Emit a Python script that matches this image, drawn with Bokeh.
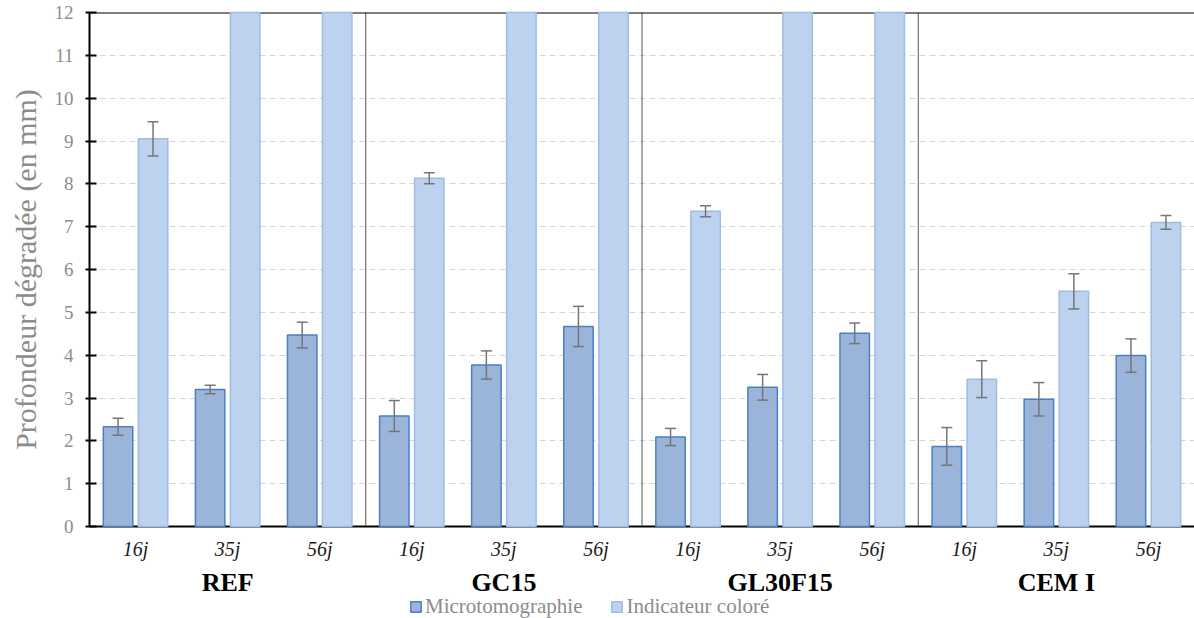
from bokeh.plotting import figure
from bokeh.layouts import column
from bokeh.models import (ColumnDataSource, FactorRange, Range1d, Whisker, TeeHead,
                          Span, Legend, LegendItem, FixedTicker)
from bokeh.core.properties import value
from bokeh.transform import dodge
from bokeh.embed import file_html
from bokeh.resources import INLINE

groups = ["REF", "GC15", "GL30F15", "CEM I"]
days = ["16j", "35j", "56j"]

micro = [2.33, 3.20, 4.47, 2.58, 3.77, 4.67, 2.09, 3.25, 4.51, 1.87, 2.97, 3.99]
micro_err = [0.20, 0.10, 0.30, 0.36, 0.33, 0.47, 0.20, 0.30, 0.24, 0.44, 0.39, 0.39]
indic = [9.05, 12.0, 12.0, 8.13, 12.0, 12.0, 7.36, 12.0, 12.0, 3.44, 5.49, 7.10]
indic_err = [0.40, None, None, 0.13, None, None, 0.13, None, None, 0.43, 0.41, 0.16]

factors = [(g, d) for g in groups for d in days]

SERIF = "Liberation Serif"
MICRO_FILL, MICRO_LINE = "#9ab4da", "#4a80c2"
INDIC_FILL, INDIC_LINE = "#bdd2ef", "#9dbde6"
ERR = "#767676"
GRAY_TXT = "#8c8c8c"

src = ColumnDataSource(dict(x=factors, micro=micro, indic=indic))
src_me = ColumnDataSource(dict(
    x=factors,
    up=[m + e for m, e in zip(micro, micro_err)],
    lo=[m - e for m, e in zip(micro, micro_err)]))
ie = [(f, v, e) for f, v, e in zip(factors, indic, indic_err) if e is not None]
src_ie = ColumnDataSource(dict(
    x=[t[0] for t in ie],
    up=[t[1] + t[2] for t in ie],
    lo=[t[1] - t[2] for t in ie]))

xr = FactorRange(*factors, factor_padding=0, group_padding=0, range_padding=0)
p = figure(x_range=xr, y_range=Range1d(0, 12), frame_width=1105, frame_height=514,
           output_backend="svg", toolbar_location=None,
           min_border_left=89, min_border_right=0, min_border_top=12, min_border_bottom=34)
p.outline_line_color = None
p.background_fill_color = "white"

OFF = 0.19
BW = 0.32
r1 = p.vbar(x=dodge("x", -OFF, range=xr), top="micro", width=BW, source=src,
            fill_color=MICRO_FILL, line_color=MICRO_LINE, line_width=1.5)
r2 = p.vbar(x=dodge("x", OFF, range=xr), top="indic", width=BW, source=src,
            fill_color=INDIC_FILL, line_color=INDIC_LINE, line_width=1.5)
r1.level = "overlay"
r2.level = "overlay"

for s, off in ((src_me, -OFF), (src_ie, OFF)):
    w = Whisker(source=s, base=dodge("x", off, range=xr), upper="up", lower="lo",
                line_color=ERR, line_width=1.5,
                upper_head=TeeHead(size=11, line_color=ERR, line_width=1.5),
                lower_head=TeeHead(size=11, line_color=ERR, line_width=1.5))
    w.level = "overlay"
    p.add_layout(w)

for loc in (3, 6, 9):
    p.add_layout(Span(location=loc, dimension="height", line_color="#555555", line_width=1))
p.add_layout(Span(location=12, dimension="width", line_color="black", line_width=2))

# y axis
p.yaxis.ticker = FixedTicker(ticks=list(range(13)))
p.yaxis.axis_label = "Profondeur dégradée (en mm)"
p.yaxis.axis_label_text_font = SERIF
p.yaxis.axis_label_text_font_style = "normal"
p.yaxis.axis_label_text_font_size = "30px"
p.yaxis.axis_label_text_color = GRAY_TXT
p.yaxis.axis_label_standoff = 10
p.yaxis.major_label_text_font = SERIF
p.yaxis.major_label_text_font_size = "19px"
p.yaxis.major_label_text_color = GRAY_TXT
p.yaxis.major_label_standoff = 12
p.yaxis.axis_line_color = "black"
p.yaxis.axis_line_width = 2
p.yaxis.major_tick_line_color = "black"
p.yaxis.major_tick_line_width = 2
p.yaxis.major_tick_in = 7
p.yaxis.major_tick_out = 4
p.yaxis.minor_tick_line_color = None

# x axis (day labels; group names drawn in the strip below)
p.xaxis.axis_line_color = "black"
p.xaxis.axis_line_width = 2
p.xaxis.major_tick_line_color = None
p.xaxis.major_label_text_font = SERIF
p.xaxis.major_label_text_font_style = "italic"
p.xaxis.major_label_text_font_size = "20px"
p.xaxis.major_label_text_color = "#1a1a1a"
p.xaxis.major_label_standoff = 5
p.xaxis.group_text_font_size = "1px"
p.xaxis.group_text_color = None
p.xaxis.separator_line_color = None

p.xgrid.grid_line_color = None
p.ygrid.grid_line_color = "#d6d6d6"
p.ygrid.grid_line_dash = "6 4"
p.ygrid.grid_line_width = 1

# lower strip: group names and legend
p2 = figure(x_range=xr, y_range=Range1d(0, 58), frame_width=1105, frame_height=58,
            output_backend="svg", toolbar_location=None,
            x_axis_type=None, y_axis_type=None,
            min_border_left=89, min_border_right=0, min_border_top=0, min_border_bottom=0)
p2.outline_line_color = None
p2.xgrid.grid_line_color = None
p2.ygrid.grid_line_color = None

gsrc = ColumnDataSource(dict(x=[(g, days[1]) for g in groups], y=[38] * len(groups), t=groups))
p2.text(x="x", y="y", text="t", source=gsrc, text_font=value(SERIF), text_font_style="bold",
        text_font_size="26px", text_color="black", text_align="center", text_baseline="middle")

# legend swatches (their bars lie outside the strip's visible range)
e1 = p2.vbar(x=[factors[0]], top=[-5], bottom=[-10], width=BW,
             fill_color=MICRO_FILL, line_color=MICRO_LINE, line_width=1.5)
e2 = p2.vbar(x=[factors[0]], top=[-5], bottom=[-10], width=BW,
             fill_color=INDIC_FILL, line_color=INDIC_LINE, line_width=1.5)

legend = Legend(items=[LegendItem(label="Microtomographie", renderers=[e1]),
                       LegendItem(label="Indicateur coloré", renderers=[e2])],
                orientation="horizontal", location=(320, 1))
legend.border_line_color = None
legend.background_fill_alpha = 0
legend.label_text_font = SERIF
legend.label_text_font_size = "21px"
legend.label_text_color = GRAY_TXT
legend.label_height = 16
legend.glyph_width = 13
legend.glyph_height = 13
legend.label_standoff = 3
legend.spacing = 28
legend.padding = 0
legend.margin = 0
p2.add_layout(legend)

layout = column(p, p2, spacing=0)
open("out.html", "w").write(file_html(layout, INLINE))
